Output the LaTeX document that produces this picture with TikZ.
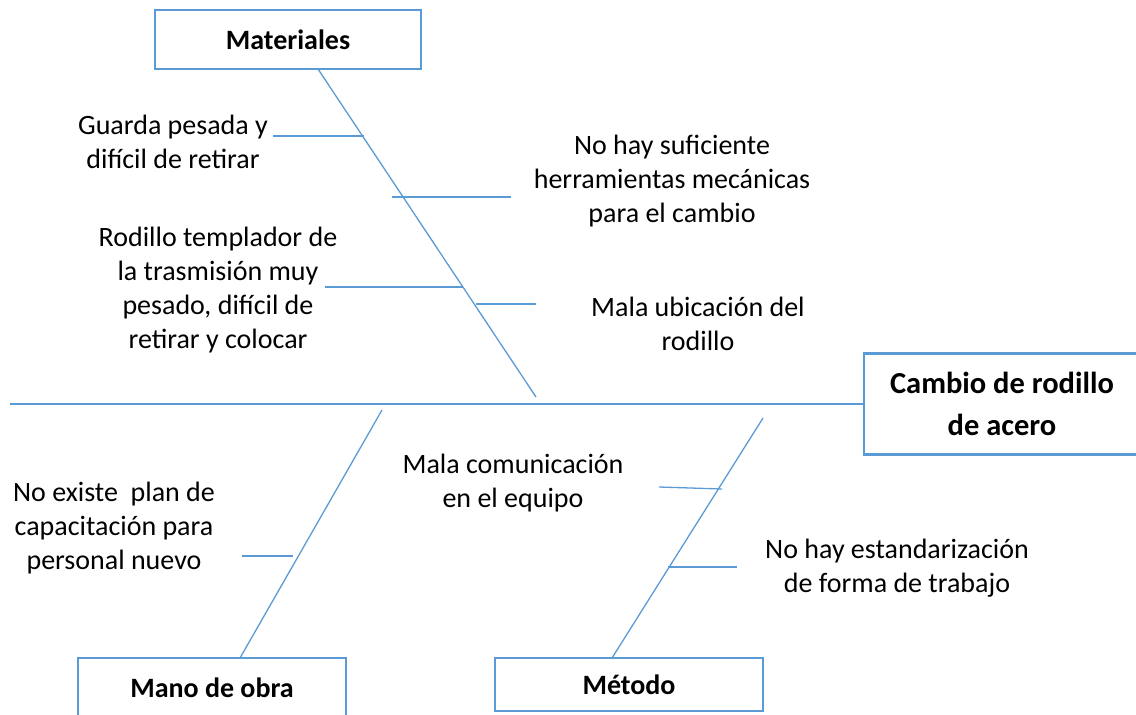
\documentclass[tikz,border=0pt]{standalone}
\usepackage{fontspec}
\setmainfont{Carlito}
\usetikzlibrary{calc}
\definecolor{azul}{RGB}{91,155,213}

\begin{document}
\begin{tikzpicture}[x=1pt, y=-1pt, line width=1.3pt,
  hueso/.style={draw=azul},
  caja/.style={draw=azul, line width=2.4pt, fill=white, font=\fontsize{28}{34}\selectfont\bfseries, inner sep=0pt},
  causa/.style={align=center, font=\fontsize{28}{34}\selectfont, inner sep=0pt}]
  \useasboundingbox (0,0) rectangle (1136,715);
  % categorias y efecto
  \node[caja, minimum width=266pt, minimum height=59pt] (mat) at (288,39.5){Materiales};
  \node[caja, minimum width=276pt, minimum height=101pt, align=center,
        font=\fontsize{30.5}{42}\selectfont\bfseries] (efecto) at (1002,404){Cambio de rodillo\\de acero};
  \node[caja, minimum width=268pt, minimum height=59pt] (mano) at (212,687.5){Mano de obra};
  \node[caja, minimum width=268pt, minimum height=53pt] (metodo) at (629,684.5){Método};
  % espina central
  \coordinate (cola) at (10,404);
  \draw[hueso, line width=1.8pt] (cola) -- (efecto.west);
  % huesos principales
  \coordinate (m0) at (318,69);   \coordinate (m1) at (536,397);
  \coordinate (o0) at (240,658);  \coordinate (o1) at (382,410);
  \coordinate (t0) at (612,658);  \coordinate (t1) at (763,418);
  \draw[hueso] (m0) -- (m1);
  \draw[hueso] (o0) -- (o1);
  \draw[hueso] (t0) -- (t1);
  % causas
  \node[causa] (guarda) at (173,142){Guarda pesada y\\difícil de retirar};
  \node[causa] (herram) at (672,181){No hay suficiente\\herramientas mecánicas\\para el cambio};
  \node[causa] (templa) at (218,290){Rodillo templador de\\la trasmisión muy\\pesado, difícil de\\retirar y colocar};
  \node[causa] (ubica) at (698,324){Mala ubicación del\\rodillo};
  \node[causa] (capac) at (114,528){No existe\ \ plan de\\capacitación para\\personal nuevo};
  \node[causa] (comun) at (513,483){Mala comunicación\\en el equipo};
  \node[causa] (estand) at (897,568){No hay estandarización\\de forma de trabajo};
  % ramas
  \coordinate (g0) at (273,136);  \coordinate (g1) at (364,136);
  \coordinate (h0) at (392,197);  \coordinate (h1) at (511,197);
  \coordinate (r0) at (325,287);  \coordinate (r1) at (463,287);
  \coordinate (u0) at (476,304);  \coordinate (u1) at (536,304);
  \coordinate (c0) at (242,556);  \coordinate (c1) at (293,556);
  \coordinate (e0) at (659,487);  \coordinate (e1) at (722,489);
  \coordinate (s0) at (668,567);  \coordinate (s1) at (737,567);
  \foreach \a/\b in {g0/g1, h0/h1, r0/r1, u0/u1, c0/c1, e0/e1, s0/s1}
    \draw[hueso] (\a) -- (\b);
\end{tikzpicture}
\end{document}
